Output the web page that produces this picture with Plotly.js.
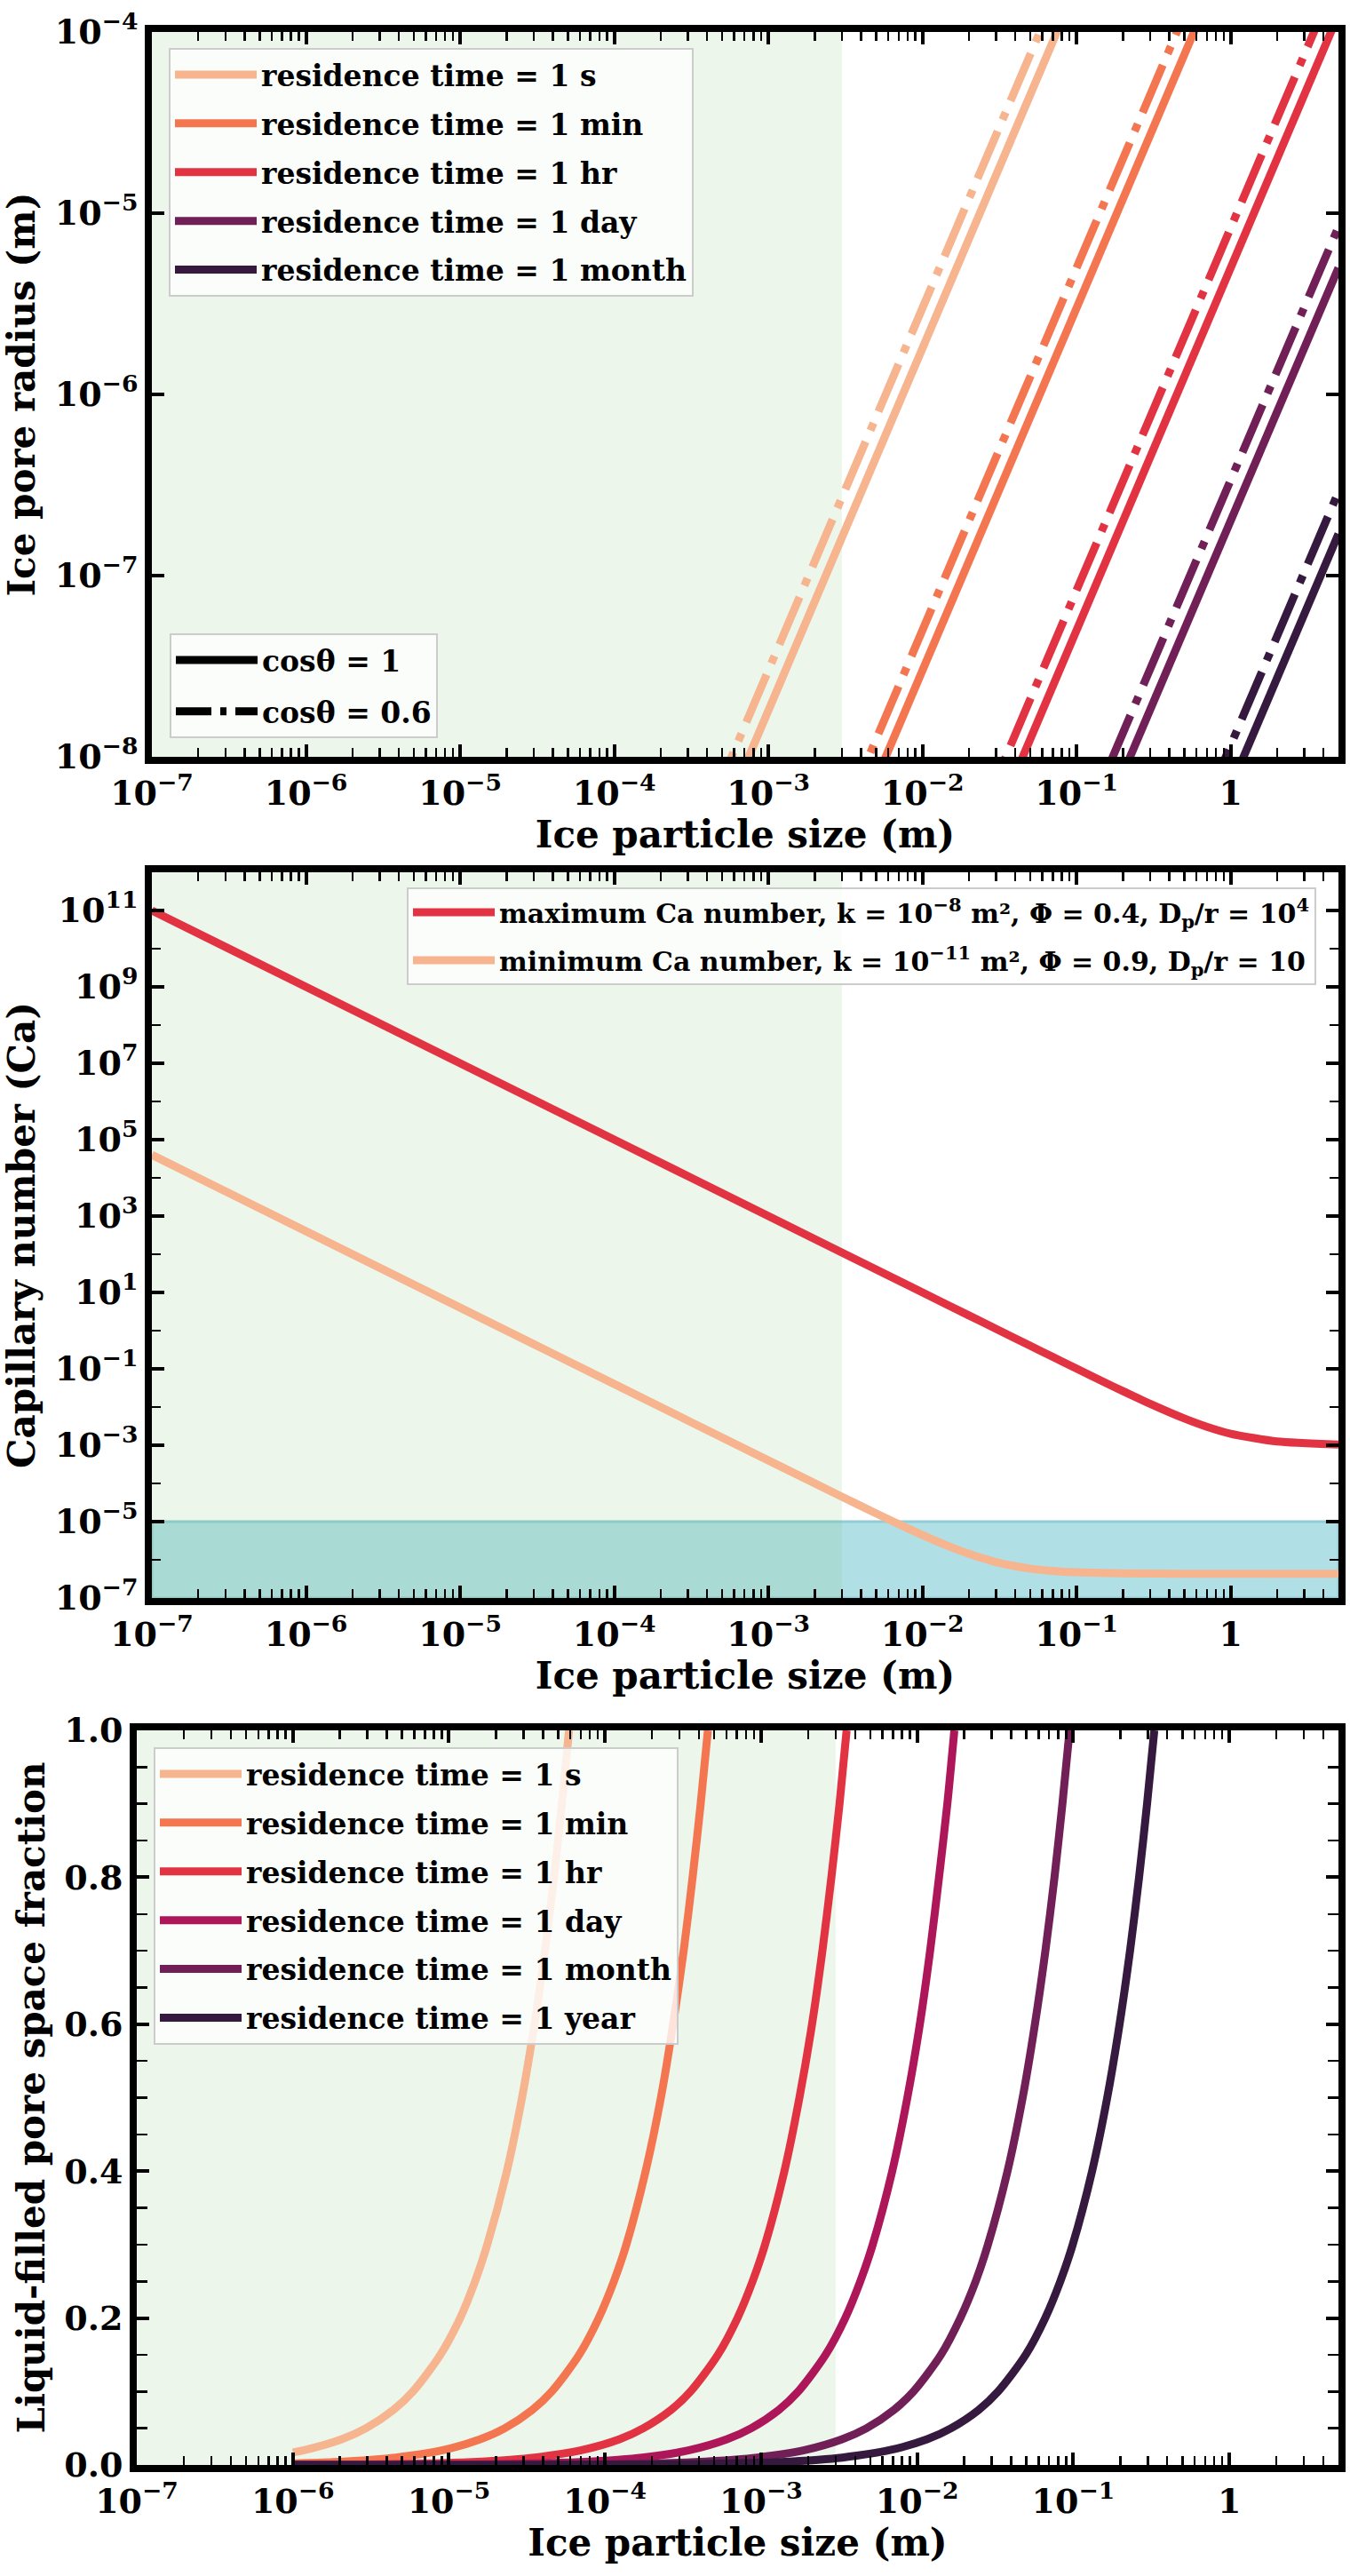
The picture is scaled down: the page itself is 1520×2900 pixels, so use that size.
<!DOCTYPE html>
<html><head><meta charset="utf-8">
<script src="https://cdn.plot.ly/plotly-3.0.1.min.js"></script>
<style>html,body{margin:0;padding:0;background:#fff}</style>
</head><body>
<div id="chart" style="width:1520px;height:2900px"></div>
<script>
// ---------------- DATA ----------------
// Panel 1: ice pore radius (m) vs ice particle size (m)
const p1Size = [1e-4, 1e-3, 1e-2, 1e-1, 1, 5];
const p1Radius_cos1_1s     = [1.8e-10, 1.8e-8, 1.8e-6, 1.8e-4, 1.8e-2, 0.45];
const p1Radius_cos1_1min   = [3e-12, 3e-10, 3e-8, 3e-6, 3e-4, 7.5e-3];
const p1Radius_cos1_1hr    = [5e-14, 5e-12, 5e-10, 5e-8, 5e-6, 1.25e-4];
const p1Radius_cos1_1day   = [2.08e-15, 2.08e-13, 2.08e-11, 2.08e-9, 2.08e-7, 5.0e-6];
const p1Radius_cos1_1month = [6.9e-17, 6.9e-15, 6.9e-13, 6.9e-11, 6.9e-9, 1.7e-7];
const p1Radius_cos06_1s     = [3e-10, 3e-8, 3e-6, 3e-4, 3e-2, 0.75];
const p1Radius_cos06_1min   = [5e-12, 5e-10, 5e-8, 5e-6, 5e-4, 1.25e-2];
const p1Radius_cos06_1hr    = [8.3e-14, 8.3e-12, 8.3e-10, 8.3e-8, 8.3e-6, 2.08e-4];
const p1Radius_cos06_1day   = [3.47e-15, 3.47e-13, 3.47e-11, 3.47e-9, 3.47e-7, 8.4e-6];
const p1Radius_cos06_1month = [1.16e-16, 1.16e-14, 1.16e-12, 1.16e-10, 1.16e-8, 2.9e-7];
const p1Labels = ['residence time = 1 s', 'residence time = 1 min', 'residence time = 1 hr',
                  'residence time = 1 day', 'residence time = 1 month'];
const cosLabels = ['cosθ = 1', 'cosθ = 0.6'];

// Panel 2: capillary number vs ice particle size
const p2SizeMax = [1e-7, 1e-6, 1e-5, 1e-4, 1e-3, 1e-2, 0.02, 0.03, 0.05, 0.07, 0.1, 0.15, 0.2, 0.3, 0.5, 0.7, 1, 2, 5];
const p2CaMax   = [1e11, 1e9, 1e7, 1e5, 1000, 10.0, 2.501, 1.112, 0.401, 0.205, 0.101, 0.0454, 0.026, 0.0121, 0.005, 0.00304, 0.002, 0.00125, 0.00104];
const p2SizeMin = [1e-7, 1e-6, 1e-5, 1e-4, 1e-3, 3e-3, 5e-3, 1e-2, 0.015, 0.02, 0.03, 0.05, 0.07, 0.1, 0.2, 0.5, 1, 5];
const p2CaMin   = [4.0e4, 400, 4.0, 0.04, 4.0e-4, 4.49e-5, 1.64e-5, 4.43e-6, 2.21e-6, 1.43e-6, 8.74e-7, 5.9e-7, 5.12e-7, 4.7e-7, 4.4e-7, 4.32e-7, 4.3e-7, 4.3e-7];
const p2Labels = [
  'maximum Ca number, k = 10<sup>−8</sup> m², Φ = 0.4, D<sub>p</sub>/r = 10<sup>4</sup>',
  'minimum Ca number, k = 10<sup>−11</sup> m², Φ = 0.9, D<sub>p</sub>/r = 10'
];

// Panel 3: liquid-filled pore space fraction vs ice particle size
const p3Size_1s = [1e-6, 1.18e-6, 2.06e-6, 2.94e-6, 4.41e-6, 5.88e-6, 8.82e-6, 1.18e-5, 1.47e-5, 1.76e-5, 2.35e-5, 2.94e-5, 3.53e-5, 4.12e-5, 4.71e-5, 5.29e-5, 5.88e-5];
const p3Frac_1s = [0.017, 0.02, 0.035, 0.05, 0.075, 0.1, 0.15, 0.2, 0.25, 0.3, 0.4, 0.5, 0.6, 0.7, 0.8, 0.9, 1.0];
const p3Size_1min = [1e-6, 1.82e-6, 3.19e-6, 4.56e-6, 9.11e-6, 1.59e-5, 2.28e-5, 3.42e-5, 4.56e-5, 6.83e-5, 9.11e-5, 1.14e-4, 1.37e-4, 1.82e-4, 2.28e-4, 2.73e-4, 3.19e-4, 3.64e-4, 4.10e-4, 4.56e-4];
const p3Frac_1min = [0.0022, 0.004, 0.007, 0.01, 0.02, 0.035, 0.05, 0.075, 0.1, 0.15, 0.2, 0.25, 0.3, 0.4, 0.5, 0.6, 0.7, 0.8, 0.9, 1.0];
const p3Size_1hr = [1e-6, 1.76e-6, 3.53e-6, 7.06e-6, 1.41e-5, 2.47e-5, 3.53e-5, 7.06e-5, 1.24e-4, 1.76e-4, 2.65e-4, 3.53e-4, 5.29e-4, 7.06e-4, 8.82e-4, 1.06e-3, 1.41e-3, 1.76e-3, 2.12e-3, 2.47e-3, 2.82e-3, 3.18e-3, 3.53e-3];
const p3Frac_1hr = [0.00028, 0.0005, 0.001, 0.002, 0.004, 0.007, 0.01, 0.02, 0.035, 0.05, 0.075, 0.1, 0.15, 0.2, 0.25, 0.3, 0.4, 0.5, 0.6, 0.7, 0.8, 0.9, 1.0];
const p3Size_1day = [1e-6, 1.73e-6, 3.46e-6, 8.65e-6, 1.73e-5, 3.46e-5, 6.92e-5, 1.21e-4, 1.73e-4, 3.46e-4, 6.05e-4, 8.65e-4, 1.30e-3, 1.73e-3, 2.59e-3, 3.46e-3, 4.32e-3, 5.19e-3, 6.92e-3, 8.65e-3, 1.04e-2, 1.21e-2, 1.38e-2, 1.56e-2, 1.73e-2];
const p3Frac_1day = [0.000058, 0.0001, 0.0002, 0.0005, 0.001, 0.002, 0.004, 0.007, 0.01, 0.02, 0.035, 0.05, 0.075, 0.1, 0.15, 0.2, 0.25, 0.3, 0.4, 0.5, 0.6, 0.7, 0.8, 0.9, 1.0];
const p3Size_1month = [1e-6, 9.47e-6, 4.74e-5, 9.47e-5, 1.89e-4, 3.79e-4, 6.63e-4, 9.47e-4, 1.89e-3, 3.31e-3, 4.74e-3, 7.10e-3, 9.47e-3, 1.42e-2, 1.89e-2, 2.37e-2, 2.84e-2, 3.79e-2, 4.74e-2, 5.68e-2, 6.63e-2, 7.58e-2, 8.52e-2, 9.47e-2];
const p3Frac_1month = [0.0000106, 0.0001, 0.0005, 0.001, 0.002, 0.004, 0.007, 0.01, 0.02, 0.035, 0.05, 0.075, 0.1, 0.15, 0.2, 0.25, 0.3, 0.4, 0.5, 0.6, 0.7, 0.8, 0.9, 1.0];
const p3Size_1year = [1e-6, 3.3e-5, 1.65e-4, 3.3e-4, 6.61e-4, 1.32e-3, 2.31e-3, 3.3e-3, 6.61e-3, 1.16e-2, 1.65e-2, 2.48e-2, 3.3e-2, 4.96e-2, 6.61e-2, 8.26e-2, 9.92e-2, 0.132, 0.165, 0.198, 0.231, 0.264, 0.297, 0.3305];
const p3Frac_1year = [0.000003, 0.0001, 0.0005, 0.001, 0.002, 0.004, 0.007, 0.01, 0.02, 0.035, 0.05, 0.075, 0.1, 0.15, 0.2, 0.25, 0.3, 0.4, 0.5, 0.6, 0.7, 0.8, 0.9, 1.0];
const p3Labels = ['residence time = 1 s', 'residence time = 1 min', 'residence time = 1 hr',
                  'residence time = 1 day', 'residence time = 1 month', 'residence time = 1 year'];

// Axis ticks / labels
const xTickVals = [1e-7, 1e-6, 1e-5, 1e-4, 1e-3, 1e-2, 1e-1, 1];
const xTickText = ['10<sup>−7</sup>', '10<sup>−6</sup>', '10<sup>−5</sup>', '10<sup>−4</sup>',
                   '10<sup>−3</sup>', '10<sup>−2</sup>', '10<sup>−1</sup>', '1'];
const y1TickVals = [1e-8, 1e-7, 1e-6, 1e-5, 1e-4];
const y1TickText = ['10<sup>−8</sup>', '10<sup>−7</sup>', '10<sup>−6</sup>', '10<sup>−5</sup>', '10<sup>−4</sup>'];
const y2TickVals = [1e11, 1e9, 1e7, 1e5, 1e3, 1e1, 1e-1, 1e-3, 1e-5, 1e-7];
const y2TickText = ['10<sup>11</sup>', '10<sup>9</sup>', '10<sup>7</sup>', '10<sup>5</sup>', '10<sup>3</sup>',
                    '10<sup>1</sup>', '10<sup>−1</sup>', '10<sup>−3</sup>', '10<sup>−5</sup>', '10<sup>−7</sup>'];
const y2MinorVals = [1e10, 1e8, 1e6, 1e4, 1e2, 1e0, 1e-2, 1e-4, 1e-6];
const y3TickVals = [0, 0.2, 0.4, 0.6, 0.8, 1.0];
const y3TickText = ['0.0', '0.2', '0.4', '0.6', '0.8', '1.0'];
const shadedSizeLimit = 3e-3;   // green region: particle size < 3 mm
const caBandTop = 1e-5;         // blue band: Ca < 1e-5

// ---------------- STYLE / LAYOUT ----------------
const W = 1520, H = 2900;
const fx = px => px / W;
const fy = px => 1 - px / H;
const FONT = 'DejaVu Serif';
const rocket = ['#f6b48f', '#f37651', '#e13342', '#ad1759', '#701f57', '#35193e'];
const p1Colors = [rocket[0], rocket[1], rocket[2], rocket[4], rocket[5]];
const LW = 9;
const DASHDOT = '58px,14px,9px,14px';

const xMinor = [];
for (let k = -7; k <= 0; k++) {
  for (let m = 2; m <= 9; m++) {
    const v = m * Math.pow(10, k);
    if (v <= 5.0001) xMinor.push(v);
  }
}
const y3Minor = [];
for (let i = 1; i < 20; i++) if (i % 4 !== 0) y3Minor.push(i * 0.05);

const traces = [];
const p1Solid = [p1Radius_cos1_1s, p1Radius_cos1_1min, p1Radius_cos1_1hr, p1Radius_cos1_1day, p1Radius_cos1_1month];
const p1Dash = [p1Radius_cos06_1s, p1Radius_cos06_1min, p1Radius_cos06_1hr, p1Radius_cos06_1day, p1Radius_cos06_1month];
p1Solid.forEach((r, i) => {
  traces.push({x: p1Size, y: r, xaxis: 'x', yaxis: 'y', mode: 'lines', name: p1Labels[i],
    line: {color: p1Colors[i], width: LW}, legend: 'legend', legendgroup: 'g1_' + i, hoverinfo: 'skip'});
});
p1Dash.forEach((r, i) => {
  traces.push({x: p1Size, y: r, xaxis: 'x', yaxis: 'y', mode: 'lines', showlegend: false,
    line: {color: p1Colors[i], width: LW, dash: DASHDOT}, hoverinfo: 'skip'});
});
// legend entries for contact-angle line styles
traces.push({x: [null], y: [null], xaxis: 'x', yaxis: 'y', mode: 'lines', name: cosLabels[0],
  line: {color: 'black', width: LW}, legend: 'legend2', legendgroup: 'c0'});
traces.push({x: [null], y: [null], xaxis: 'x', yaxis: 'y', mode: 'lines', name: cosLabels[1],
  line: {color: 'black', width: LW, dash: '40px,10px,7px,10px'}, legend: 'legend2', legendgroup: 'c1'});

// panel 2
traces.push({x: p2SizeMax, y: p2CaMax, xaxis: 'x2', yaxis: 'y2', mode: 'lines', name: p2Labels[0],
  line: {color: rocket[2], width: LW, shape: 'spline', smoothing: 0.6}, legend: 'legend3', legendgroup: 'm0', hoverinfo: 'skip'});
traces.push({x: p2SizeMin, y: p2CaMin, xaxis: 'x2', yaxis: 'y2', mode: 'lines', name: p2Labels[1],
  line: {color: rocket[0], width: LW, shape: 'spline', smoothing: 0.6}, legend: 'legend3', legendgroup: 'm1', hoverinfo: 'skip'});

// panel 3
const p3X = [p3Size_1s, p3Size_1min, p3Size_1hr, p3Size_1day, p3Size_1month, p3Size_1year];
const p3Y = [p3Frac_1s, p3Frac_1min, p3Frac_1hr, p3Frac_1day, p3Frac_1month, p3Frac_1year];
p3X.forEach((xs, i) => {
  traces.push({x: xs, y: p3Y[i], xaxis: 'x3', yaxis: 'y3', mode: 'lines', name: p3Labels[i],
    line: {color: rocket[i], width: LW, shape: 'spline', smoothing: 0.8}, legend: 'legend4', legendgroup: 'r' + i, hoverinfo: 'skip'});
});

const tickFont = {family: FONT, size: 38, color: 'black', weight: 'bold'};
const titleFont = {family: FONT, size: 42, color: 'black', weight: 'bold'};
const legendFont = {family: FONT, size: 33, color: 'black', weight: 'bold'};
const legendFontSmall = {family: FONT, size: 30, color: 'black', weight: 'bold'};

function baseAxis(extra) {
  return Object.assign({
    ticks: 'inside', ticklen: 14, tickwidth: 4, tickcolor: 'black',
    showline: true, linewidth: 8, linecolor: 'black', mirror: 'allticks',
    showgrid: false, zeroline: false, tickfont: tickFont, tickmode: 'array'
  }, extra);
}
function xAxis(anchor, domain) {
  return baseAxis({type: 'log', anchor: anchor, domain: domain, range: [-7, Math.log10(5)],
    tickvals: xTickVals, ticktext: xTickText, automargin: true,
    minor: {tickmode: 'array', tickvals: xMinor, ticks: 'inside', ticklen: 10, tickwidth: 2.5, tickcolor: 'black', showgrid: false},
    title: {text: 'Ice particle size (m)', font: titleFont, standoff: 0}});
}

function legendBox(x, y, font, gap, iw) {
  return {x: fx(x), y: fy(y), xanchor: 'left', yanchor: 'top', bgcolor: 'rgba(255,255,255,0.8)',
    bordercolor: '#cccccc', borderwidth: 2, font: font, traceorder: 'grouped', tracegroupgap: gap, itemwidth: iw};
}

const P1 = {l: 171, r: 1507, t: 36, b: 852};
const P2 = {l: 171, r: 1507, t: 982, b: 1799};
const P3 = {l: 154, r: 1507, t: 1948, b: 2775};

const layout = {
  width: W, height: H, margin: {l: 0, r: 0, t: 0, b: 0, autoexpand: false},
  paper_bgcolor: 'white', plot_bgcolor: 'white',
  font: {family: FONT, size: 38, color: 'black', weight: 'bold'},
  showlegend: true,
  xaxis: xAxis('y', [fx(P1.l), fx(P1.r)]),
  yaxis: baseAxis({type: 'log', anchor: 'x', domain: [fy(P1.b), fy(P1.t)], range: [-8, -4],
    tickvals: y1TickVals, ticktext: y1TickText,
    title: {text: 'Ice pore radius (m)', font: titleFont, standoff: 12}}),
  xaxis2: xAxis('y2', [fx(P2.l), fx(P2.r)]),
  yaxis2: baseAxis({type: 'log', anchor: 'x2', domain: [fy(P2.b), fy(P2.t)], range: [-7, 12],
    tickvals: y2TickVals, ticktext: y2TickText,
    minor: {tickmode: 'array', tickvals: y2MinorVals, ticks: 'inside', ticklen: 10, tickwidth: 2.5, tickcolor: 'black', showgrid: false},
    title: {text: 'Capillary number (Ca)', font: titleFont, standoff: 12}}),
  xaxis3: xAxis('y3', [fx(P3.l), fx(P3.r)]),
  yaxis3: baseAxis({type: 'linear', anchor: 'x3', domain: [fy(P3.b), fy(P3.t)], range: [0, 1],
    tickvals: y3TickVals, ticktext: y3TickText,
    minor: {tickmode: 'array', tickvals: y3Minor, ticks: 'inside', ticklen: 12, tickwidth: 2.5, tickcolor: 'black', showgrid: false},
    title: {text: 'Liquid-filled pore space fraction', font: titleFont, standoff: 12}}),
  legend: legendBox(190, 54, legendFont, 9, 92),
  legend2: legendBox(191, 713, legendFont, 12, 92),
  legend3: legendBox(458, 999, legendFontSmall, 12, 92),
  legend4: legendBox(173, 1967, legendFont, 9, 92),
  shapes: [
    {type: 'rect', xref: 'x2 domain', yref: 'y2', x0: 0, x1: 1, y0: 1e-7, y1: caBandTop, layer: 'below',
      fillcolor: '#b1dfe6', line: {color: '#92cdd6', width: 3}},
    {type: 'rect', xref: 'x', yref: 'y domain', x0: 1e-7, x1: shadedSizeLimit, y0: 0, y1: 1, layer: 'below',
      fillcolor: 'rgba(119,191,105,0.14)', line: {width: 0}},
    {type: 'rect', xref: 'x2', yref: 'y2 domain', x0: 1e-7, x1: shadedSizeLimit, y0: 0, y1: 1, layer: 'below',
      fillcolor: 'rgba(119,191,105,0.14)', line: {width: 0}},
    {type: 'rect', xref: 'x3', yref: 'y3 domain', x0: 1e-7, x1: shadedSizeLimit, y0: 0, y1: 1, layer: 'below',
      fillcolor: 'rgba(119,191,105,0.14)', line: {width: 0}}
  ]
};

Plotly.newPlot('chart', traces, layout, {staticPlot: true});
</script>
</body></html>
